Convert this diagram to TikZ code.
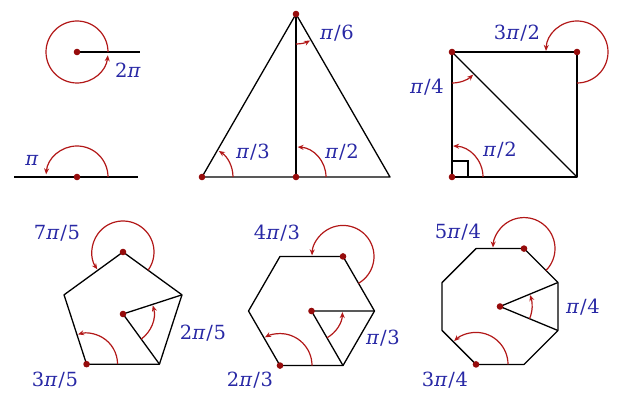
\documentclass[tikz,border=0pt]{standalone}
\usepackage{fontspec}
\setmainfont{DejaVu Serif}
\usetikzlibrary{arrows.meta,calc}
\definecolor{arcred}{RGB}{178,24,24}
\definecolor{dotred}{RGB}{150,12,12}
\definecolor{lblue}{RGB}{40,40,165}
\newcommand{\ppi}{\textit{π}}
\newcommand{\myslash}{\kern0.8pt/\kern0.8pt}
\begin{document}
\begin{tikzpicture}[x=1pt,y=1pt,
  edge/.style={line width=1.3pt,black,line join=round},
  angarc/.style={line width=1.2pt,arcred,-{Stealth[length=6pt,width=5pt]}},
  lbl/.style={text=lblue,font=\fontsize{19.5}{23}\selectfont,inner sep=0pt},
  pdot/.style={fill=dotred}]
\useasboundingbox (0,0) rectangle (621,405);
% ---------- full angle ----------
\coordinate (C1) at (77,353);
\coordinate (C1e) at (140,353);
\draw[edge] (C1) -- (C1e);
\draw[angarc] (C1) ++(0:31pt) arc[start angle=0,end angle=354,radius=31pt];
\fill[pdot] (C1) circle[radius=3.3pt];
\node[lbl] (l2pi) at (128,335) {2\ppi};
% ---------- straight angle ----------
\coordinate (S) at (77,228);
\coordinate (Sl) at (14,228);
\coordinate (Sr) at (138,228);
\draw[edge] (Sl) -- (Sr);
\draw[angarc] (S) ++(0:31pt) arc[start angle=0,end angle=175,radius=31pt];
\fill[pdot] (S) circle[radius=3.3pt];
\node[lbl] (lpi) at (32,245) {\ppi};
% ---------- equilateral triangle ----------
\coordinate (TA) at (296,391);
\coordinate (TB) at (202,228);
\coordinate (TM) at (296,228);
\coordinate (TC) at (390,228);
\draw[edge] (TA) -- (TB) -- (TC) -- cycle;
\draw[edge] (TA) -- (TM);
\draw[angarc] (TB) ++(0:31pt) arc[start angle=0,end angle=57,radius=31pt];
\draw[angarc] (TM) ++(0:30pt) arc[start angle=0,end angle=87,radius=30pt];
\draw[angarc] (TA) ++(270:30pt) arc[start angle=270,end angle=298,radius=30pt];
\foreach \p in {TA,TB,TM} \fill[pdot] (\p) circle[radius=3.3pt];
\node[lbl] (lt3) at (253,253) {\ppi\myslash3};
\node[lbl] (lt2) at (342,253) {\ppi\myslash2};
\node[lbl] (lt6) at (337,372) {\ppi\myslash6};
% ---------- square ----------
\coordinate (QTL) at (452,353);
\coordinate (QBL) at (452,228);
\coordinate (QTR) at (577,353);
\coordinate (QBR) at (577,228);
\draw[edge] (QTL) -- (QTR) -- (QBR) -- (QBL) -- cycle;
\draw[edge] (QTL) -- (QBR);
\draw[line width=1.1pt] (QBL) ++(16,0) -- ++(0,16) -- ++(-16,0);
\draw[angarc] (QTL) ++(270:31pt) arc[start angle=270,end angle=313,radius=31pt];
\draw[angarc] (QBL) ++(0:31pt) arc[start angle=0,end angle=88,radius=31pt];
\draw[angarc] (QTR) ++(270:31pt) arc[start angle=270,end angle=538,radius=31pt];
\foreach \p in {QTL,QBL,QTR} \fill[pdot] (\p) circle[radius=3.3pt];
\node[lbl] (lq4) at (427,318) {\ppi\myslash4};
\node[lbl] (lq2) at (500,255) {\ppi\myslash2};
\node[lbl] (lq32) at (517,372) {3\ppi\myslash2};
% ---------- pentagon ----------
\coordinate (P) at (123,91);
\foreach \i/\a in {1/90,2/162,3/234,4/306,5/18}
  \coordinate (P\i) at ($(P)+(\a:62pt)$);
\draw[edge] (P1) -- (P2) -- (P3) -- (P4) -- (P5) -- cycle;
\draw[edge] (P5) -- (P) -- (P4);
\draw[angarc] (P) ++(-54:31pt) arc[start angle=-54,end angle=16,radius=31pt];
\draw[angarc] (P3) ++(0:31pt) arc[start angle=0,end angle=106,radius=31pt];
\draw[angarc] (P1) ++(-36:31pt) arc[start angle=-36,end angle=214,radius=31pt];
\foreach \p in {P,P1,P3} \fill[pdot] (\p) circle[radius=3.3pt];
\node[lbl] (lp75) at (57,172) {7\ppi\myslash5};
\node[lbl] (lp35) at (55,25) {3\ppi\myslash5};
\node[lbl] (lp25) at (203,72) {2\ppi\myslash5};
% ---------- hexagon ----------
\coordinate (H) at (311.5,94);
\foreach \i/\a in {1/0,2/60,3/120,4/180,5/240,6/300}
  \coordinate (H\i) at ($(H)+(\a:63pt)$);
\draw[edge] (H1) -- (H2) -- (H3) -- (H4) -- (H5) -- (H6) -- cycle;
\draw[edge] (H1) -- (H) -- (H6);
\draw[angarc] (H) ++(-60:31pt) arc[start angle=-60,end angle=-2,radius=31pt];
\draw[angarc] (H5) ++(0:32pt) arc[start angle=0,end angle=118,radius=32pt];
\draw[angarc] (H2) ++(-60:31pt) arc[start angle=-60,end angle=178,radius=31pt];
\foreach \p in {H,H2,H5} \fill[pdot] (\p) circle[radius=3.3pt];
\node[lbl] (lh43) at (277,172) {4\ppi\myslash3};
\node[lbl] (lh23) at (250,25) {2\ppi\myslash3};
\node[lbl] (lh3) at (383,67) {\ppi\myslash3};
% ---------- octagon ----------
\coordinate (O) at (500,98.5);
\foreach \i/\a in {1/22.5,2/67.5,3/112.5,4/157.5,5/202.5,6/247.5,7/292.5,8/337.5}
  \coordinate (O\i) at ($(O)+(\a:62.7pt)$);
\draw[edge] (O1) -- (O2) -- (O3) -- (O4) -- (O5) -- (O6) -- (O7) -- (O8) -- cycle;
\draw[edge] (O1) -- (O) -- (O8);
\draw[angarc] (O) ++(-22.5:32pt) arc[start angle=-22.5,end angle=21,radius=32pt];
\draw[angarc] (O6) ++(0:32pt) arc[start angle=0,end angle=133,radius=32pt];
\draw[angarc] (O2) ++(-45:31pt) arc[start angle=-45,end angle=178,radius=31pt];
\foreach \p in {O,O2,O6} \fill[pdot] (\p) circle[radius=3.3pt];
\node[lbl] (lo54) at (458,173) {5\ppi\myslash4};
\node[lbl] (lo34) at (445,25) {3\ppi\myslash4};
\node[lbl] (lo4) at (583,98) {\ppi\myslash4};
\end{tikzpicture}
\end{document}
